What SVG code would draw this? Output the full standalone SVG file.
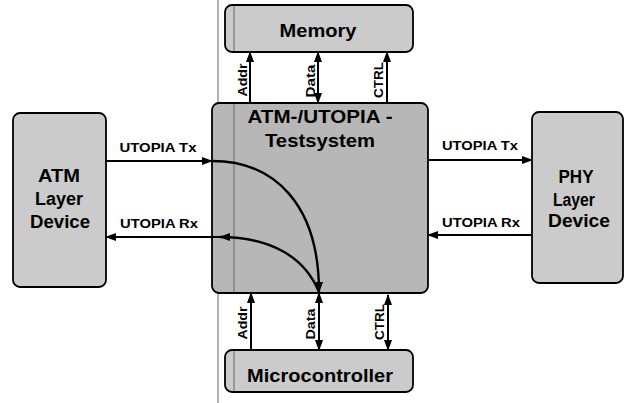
<svg xmlns="http://www.w3.org/2000/svg" width="627" height="403" viewBox="0 0 627 403">
<defs>
<marker id="ah" markerUnits="userSpaceOnUse" markerWidth="11" markerHeight="8" refX="10" refY="4" orient="auto-start-reverse" viewBox="0 0 11 8">
<path d="M0,0 L11,4 L0,8 z" fill="#000"/>
</marker>
</defs>
<style>
.box{stroke:#000;stroke-width:1.8}
.lt{fill:#cbcbcb}
.dk{fill:#b7b7b7}
.big{font-family:"Liberation Sans",Arial,sans-serif;font-weight:bold;font-size:18px;fill:#000;text-anchor:middle}
.sm{font-family:"Liberation Sans",Arial,sans-serif;font-weight:bold;font-size:13px;fill:#000;text-anchor:middle}
.ln{stroke:#000;stroke-width:2;fill:none}
.cv{stroke:#000;stroke-width:2.4;fill:none}
.scan{stroke:#666;stroke-width:1;fill:none}
</style>
<rect width="627" height="403" fill="#fff"/>
<line class="scan" x1="218" y1="0" x2="218" y2="403"/>
<g id="memory">
<rect class="box lt" x="225" y="5" width="188" height="47" rx="7"/>
<text class="big" x="318" y="37" textLength="77" lengthAdjust="spacingAndGlyphs">Memory</text>
</g>
<g id="testsystem">
<rect class="box dk" x="212" y="103" width="216" height="190" rx="7"/>
<text class="big" x="320" y="123" textLength="145" lengthAdjust="spacingAndGlyphs">ATM-/UTOPIA -</text>
<text class="big" x="320" y="147" textLength="110" lengthAdjust="spacingAndGlyphs">Testsystem</text>
</g>
<g id="microcontroller">
<rect class="box lt" x="225" y="350" width="188" height="42" rx="7"/>
<text class="big" x="320" y="382" textLength="146" lengthAdjust="spacingAndGlyphs">Microcontroller</text>
</g>
<g id="atm">
<rect class="box lt" x="13" y="113" width="93" height="174" rx="7"/>
<text class="big" x="59" y="182" textLength="42" lengthAdjust="spacingAndGlyphs">ATM</text>
<text class="big" x="59" y="205" textLength="48" lengthAdjust="spacingAndGlyphs">Layer</text>
<text class="big" x="60" y="228" textLength="60" lengthAdjust="spacingAndGlyphs">Device</text>
</g>
<g id="phy">
<rect class="box lt" x="532" y="112" width="91" height="171" rx="7"/>
<text class="big" x="576" y="183" textLength="35" lengthAdjust="spacingAndGlyphs">PHY</text>
<text class="big" x="574" y="206" textLength="42" lengthAdjust="spacingAndGlyphs">Layer</text>
<text class="big" x="579" y="227" textLength="62" lengthAdjust="spacingAndGlyphs">Device</text>
</g>
<line class="scan" x1="234" y1="6" x2="234" y2="51"/>
<line class="scan" x1="234" y1="104" x2="234" y2="292"/>
<line class="scan" x1="234" y1="351" x2="234" y2="391"/>
<g id="connectors">
<line class="ln" x1="106" y1="161" x2="212" y2="161" marker-end="url(#ah)"/>
<path class="cv" d="M212,161 C275,161 319,205 319,292" marker-end="url(#ah)"/>
<path class="cv" d="M319,292 C305,258 272,237 220,237" marker-end="url(#ah)"/>
<line class="ln" x1="220" y1="237" x2="106" y2="237" marker-end="url(#ah)"/>
<line class="ln" x1="428" y1="160" x2="532" y2="160" marker-end="url(#ah)"/>
<line class="ln" x1="532" y1="235" x2="428" y2="235" marker-end="url(#ah)"/>
<line class="ln" x1="250" y1="103" x2="250" y2="52" marker-end="url(#ah)"/>
<line class="ln" x1="318" y1="103" x2="318" y2="52" marker-start="url(#ah)" marker-end="url(#ah)"/>
<line class="ln" x1="387" y1="103" x2="387" y2="52" marker-end="url(#ah)"/>
<line class="ln" x1="251" y1="350" x2="251" y2="293" marker-end="url(#ah)"/>
<line class="ln" x1="319" y1="350" x2="319" y2="293" marker-start="url(#ah)" marker-end="url(#ah)"/>
<line class="ln" x1="388" y1="350" x2="388" y2="295" marker-start="url(#ah)" marker-end="url(#ah)"/>
</g>
<g id="labels">
<text class="sm" x="158" y="152" textLength="77" lengthAdjust="spacingAndGlyphs">UTOPIA Tx</text>
<text class="sm" x="159" y="228" textLength="78" lengthAdjust="spacingAndGlyphs">UTOPIA Rx</text>
<text class="sm" x="480" y="150" textLength="76" lengthAdjust="spacingAndGlyphs">UTOPIA Tx</text>
<text class="sm" x="481" y="227" textLength="78" lengthAdjust="spacingAndGlyphs">UTOPIA Rx</text>
<text class="sm" transform="translate(247,80) rotate(-90)" x="0" y="0" textLength="33" lengthAdjust="spacingAndGlyphs">Addr</text>
<text class="sm" transform="translate(315,81) rotate(-90)" x="0" y="0" textLength="33" lengthAdjust="spacingAndGlyphs">Data</text>
<text class="sm" transform="translate(383,80) rotate(-90)" x="0" y="0" textLength="36" lengthAdjust="spacingAndGlyphs">CTRL</text>
<text class="sm" transform="translate(247,323) rotate(-90)" x="0" y="0" textLength="33" lengthAdjust="spacingAndGlyphs">Addr</text>
<text class="sm" transform="translate(315,324) rotate(-90)" x="0" y="0" textLength="31" lengthAdjust="spacingAndGlyphs">Data</text>
<text class="sm" transform="translate(384,322) rotate(-90)" x="0" y="0" textLength="36" lengthAdjust="spacingAndGlyphs">CTRL</text>
</g>
</svg>
